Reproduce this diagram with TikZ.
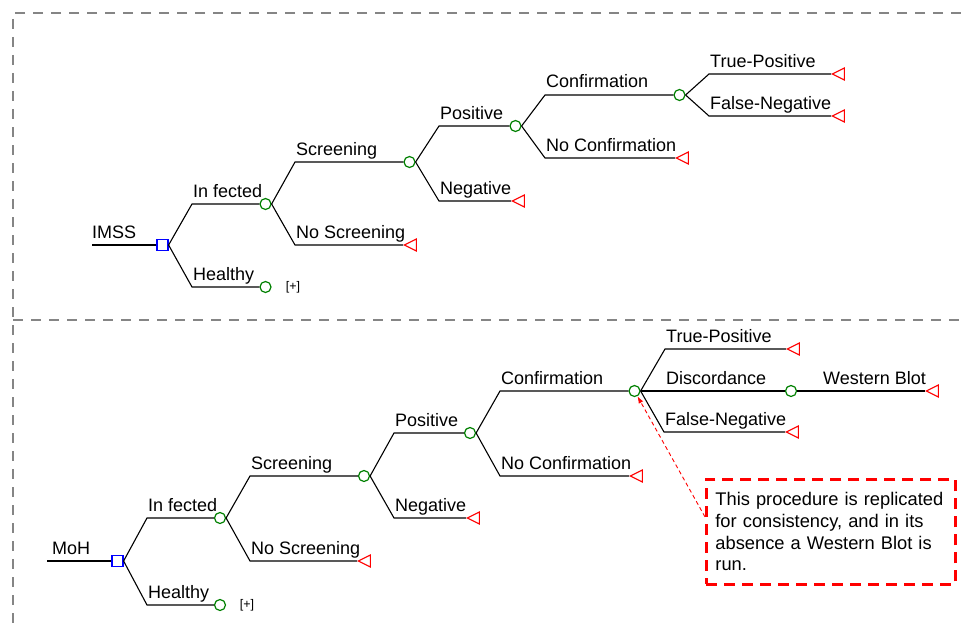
\documentclass[tikz,border=0pt]{standalone}
\usepackage{fontspec}
\setmainfont{Liberation Sans}
\usepackage{xcolor}
\usepackage{tikz}
\usetikzlibrary{arrows.meta,shapes.geometric}
\definecolor{TreeGreen}{HTML}{008000}
\definecolor{TreeBlue}{HTML}{0000FF}
\definecolor{TreeRed}{HTML}{FF0000}
\definecolor{FrameGray}{HTML}{858585}
\tikzset{
  dtdecide/.style={
    draw=TreeBlue,
    rectangle,
    minimum width=11pt,
    minimum height=11pt,
    inner sep=0pt,
    line width=1.2pt
  },
  dtchance/.style={draw=TreeGreen, circle, minimum size=11pt, inner sep=0pt, line width=1.2pt},
  dtend/.style={
    draw=TreeRed,
    isosceles triangle,
    shape border rotate=180,
    isosceles triangle stretches,
    minimum width=12pt,
    minimum height=12pt,
    inner sep=0pt,
    line width=1.1pt,
    anchor=apex
  },
  dtline/.style={line width=1.1pt, draw=black},
  dtlabel/.style={anchor=base west, inner sep=0pt, xshift=1pt, yshift=7pt, font=\fontsize{18}{21}\selectfont},
  dtmore/.style={inner sep=0pt, font=\fontsize{12.5}{14}\selectfont},
  dtframe/.style={draw=FrameGray, line width=2.5pt, dash pattern=on 10pt off 8pt},
  dtnote/.style={
    draw=TreeRed,
    line width=2.8pt,
    dash pattern=on 11pt off 7pt,
    anchor=north west,
    align=left,
    text width=231pt,
    minimum width=249pt,
    minimum height=105pt,
    inner xsep=9pt,
    inner ysep=6pt,
    font=\fontsize{18.3}{21.7}\selectfont
  },
  dtpointer/.style={draw=TreeRed, line width=0.9pt, dash pattern=on 4pt off 3pt, -{Latex[length=7pt,width=5pt]}}
}
\begin{document}
\begin{tikzpicture}[x=1pt,y=-1pt]
  \useasboundingbox (0,0) rectangle (961,626);
  \draw[dtframe] (961,13) -- (13,13) -- (13,626);
  \draw[dtframe] (13,320) -- (961,320);

  % IMSS tree
  \coordinate (rootA) at (92,245);
  \node[dtdecide] (dA) at (162.5,245) {};
  \node[dtlabel, xshift=-1pt] at (rootA) {IMSS};
  \draw[dtline] (rootA) -- (dA);

  \coordinate (kInfA) at (192,204);
  \coordinate (kHeaA) at (192,287);
  \node[dtchance] (cInfA) at (265.5,204) {};
  \node[dtchance] (cHeaA) at (265.5,287) {};
  \node[dtlabel] at (kInfA) {In fected};
  \node[dtlabel] at (kHeaA) {Healthy};
  \node[dtmore] (moreA) at (293,287) {[+]};
  \draw[dtline] (dA.east) -- (kInfA) -- (cInfA);
  \draw[dtline] (dA.east) -- (kHeaA) -- (cHeaA);

  \coordinate (kScrA) at (295,162);
  \coordinate (kNoScrA) at (295,245);
  \node[dtchance] (cScrA) at (409.5,162) {};
  \node[dtend] (tNoScrA) at (403,245) {};
  \node[dtlabel] at (kScrA) {Screening};
  \node[dtlabel] at (kNoScrA) {No Screening};
  \draw[dtline] (cInfA.east) -- (kScrA) -- (cScrA);
  \draw[dtline] (cInfA.east) -- (kNoScrA) -- (tNoScrA);

  \coordinate (kPosA) at (439,126);
  \coordinate (kNegA) at (439,201);
  \node[dtchance] (cPosA) at (515.5,126) {};
  \node[dtend] (tNegA) at (511,201) {};
  \node[dtlabel] at (kPosA) {Positive};
  \node[dtlabel] at (kNegA) {Negative};
  \draw[dtline] (cScrA.east) -- (kPosA) -- (cPosA);
  \draw[dtline] (cScrA.east) -- (kNegA) -- (tNegA);

  \coordinate (kConfA) at (545,95);
  \coordinate (kNoConfA) at (545,158);
  \node[dtchance] (cConfA) at (679.5,95) {};
  \node[dtend] (tNoConfA) at (675,158) {};
  \node[dtlabel] at (kConfA) {Confirmation};
  \node[dtlabel] at (kNoConfA) {No Confirmation};
  \draw[dtline] (cPosA.east) -- (kConfA) -- (cConfA);
  \draw[dtline] (cPosA.east) -- (kNoConfA) -- (tNoConfA);

  \coordinate (kTPA) at (709,74);
  \coordinate (kFNA) at (709,116);
  \node[dtend] (tTPA) at (831,74) {};
  \node[dtend] (tFNA) at (831,116) {};
  \node[dtlabel] at (kTPA) {True-Positive};
  \node[dtlabel] at (kFNA) {False-Negative};
  \draw[dtline] (cConfA.east) -- (kTPA) -- (tTPA);
  \draw[dtline] (cConfA.east) -- (kFNA) -- (tFNA);

  % MoH tree
  \coordinate (rootB) at (47,561);
  \node[dtdecide] (dB) at (117.5,561) {};
  \node[dtlabel, xshift=4pt] at (rootB) {MoH};
  \draw[dtline] (rootB) -- (dB);

  \coordinate (kInfB) at (147,518);
  \coordinate (kHeaB) at (147,605);
  \node[dtchance] (cInfB) at (220,518) {};
  \node[dtchance] (cHeaB) at (220,605) {};
  \node[dtlabel] at (kInfB) {In fected};
  \node[dtlabel] at (kHeaB) {Healthy};
  \node[dtmore] (moreB) at (247,605) {[+]};
  \draw[dtline] (dB.east) -- (kInfB) -- (cInfB);
  \draw[dtline] (dB.east) -- (kHeaB) -- (cHeaB);

  \coordinate (kScrB) at (250,476);
  \coordinate (kNoScrB) at (250,561);
  \node[dtchance] (cScrB) at (364,476) {};
  \node[dtend] (tNoScrB) at (357,561) {};
  \node[dtlabel] at (kScrB) {Screening};
  \node[dtlabel] at (kNoScrB) {No Screening};
  \draw[dtline] (cInfB.east) -- (kScrB) -- (cScrB);
  \draw[dtline] (cInfB.east) -- (kNoScrB) -- (tNoScrB);

  \coordinate (kPosB) at (394,433);
  \coordinate (kNegB) at (394,518);
  \node[dtchance] (cPosB) at (470,433) {};
  \node[dtend] (tNegB) at (466,518) {};
  \node[dtlabel] at (kPosB) {Positive};
  \node[dtlabel] at (kNegB) {Negative};
  \draw[dtline] (cScrB.east) -- (kPosB) -- (cPosB);
  \draw[dtline] (cScrB.east) -- (kNegB) -- (tNegB);

  \coordinate (kConfB) at (500,391);
  \coordinate (kNoConfB) at (500,476);
  \node[dtchance] (cConfB) at (634.5,391) {};
  \node[dtend] (tNoConfB) at (629,476) {};
  \node[dtlabel] at (kConfB) {Confirmation};
  \node[dtlabel] at (kNoConfB) {No Confirmation};
  \draw[dtline] (cPosB.east) -- (kConfB) -- (cConfB);
  \draw[dtline] (cPosB.east) -- (kNoConfB) -- (tNoConfB);

  \coordinate (kTPB) at (665,349);
  \coordinate (kDisB) at (665,391);
  \coordinate (kFNB) at (664,432);
  \node[dtend] (tTPB) at (786,349) {};
  \node[dtchance] (cDisB) at (791,391) {};
  \node[dtend] (tFNB) at (785,432) {};
  \node[dtlabel] at (kTPB) {True-Positive};
  \node[dtlabel] at (kDisB) {Discordance};
  \node[dtlabel] at (kFNB) {False-Negative};
  \draw[dtline] (cConfB.east) -- (kTPB) -- (tTPB);
  \draw[dtline] (cConfB.east) -- (cDisB);
  \draw[dtline] (cConfB.east) -- (kFNB) -- (tFNB);

  \coordinate (kWBB) at (822,391);
  \node[dtend] (tWBB) at (925,391) {};
  \node[dtlabel] at (kWBB) {Western Blot};
  \draw[dtline] (cDisB) -- (tWBB);

  \node[dtnote] (note) at (705,478) {This procedure is replicated\\for consistency, and in its\\absence a Western Blot is\\run.};
  \draw[dtpointer] ([yshift=15pt]note.west) -- (cConfB);
\end{tikzpicture}
\end{document}
